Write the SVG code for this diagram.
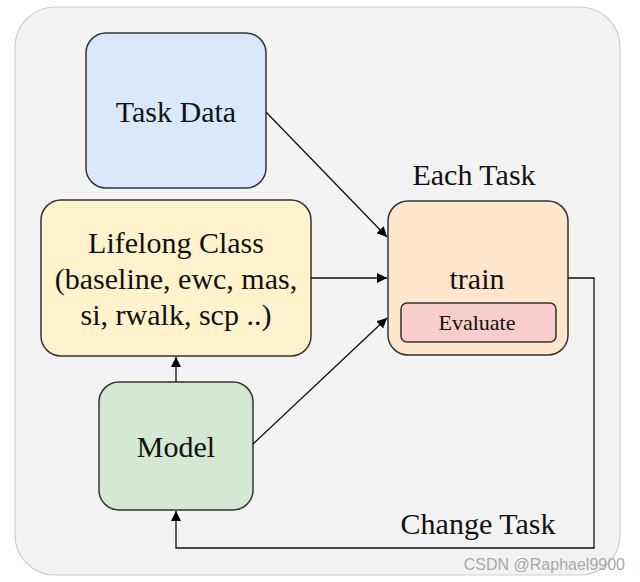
<svg xmlns="http://www.w3.org/2000/svg" width="640" height="582" viewBox="0 0 640 582">
<defs>
<marker id="arr" viewBox="0 0 10 10" refX="10" refY="5" markerWidth="10" markerHeight="10" markerUnits="userSpaceOnUse" orient="auto">
<path d="M0,0 L10,5 L0,10 z" fill="#000"/>
</marker>
<style>
.node{stroke:#333;stroke-width:1.5}
.t{font-family:"Liberation Serif","Times New Roman",serif;font-size:30px;fill:#111;text-anchor:middle}
.c{fill:none;stroke:#111;stroke-width:1.3}
</style>
</defs>
<rect width="640" height="582" fill="#fff"/>
<rect id="panel" x="15" y="7" width="605" height="568" rx="40" fill="#f3f3f3" stroke="#cfcfcf" stroke-width="1.2"/>
<g id="task-data">
<rect class="node" x="86" y="33" width="180" height="155" rx="20" fill="#dae8fc"/>
<text class="t" x="176" y="122">Task Data</text>
</g>
<g id="lifelong-class">
<rect class="node" x="41" y="200" width="270" height="156" rx="20" fill="#fff2cc"/>
<text class="t" x="176" y="253">Lifelong Class</text>
<text class="t" x="176" y="289">(baseline, ewc, mas,</text>
<text class="t" x="176" y="325">si, rwalk, scp ..)</text>
</g>
<g id="each-task">
<text class="t" x="474" y="185">Each Task</text>
<rect class="node" x="388" y="201" width="180" height="154" rx="20" fill="#ffe6cc"/>
<text class="t" x="477" y="289">train</text>
<g id="evaluate">
<rect class="node" x="401" y="303" width="155" height="39" rx="6" fill="#f8cecc"/>
<text class="t" x="477" y="330" style="font-size:22px">Evaluate</text>
</g>
</g>
<g id="model">
<rect class="node" x="99" y="382" width="154" height="128" rx="20" fill="#d5e8d4"/>
<text class="t" x="176" y="457">Model</text>
</g>
<g id="connectors">
<line class="c" x1="266" y1="112" x2="387" y2="237" marker-end="url(#arr)"/>
<line class="c" x1="311" y1="278" x2="387" y2="278" marker-end="url(#arr)"/>
<line class="c" x1="253" y1="444" x2="387" y2="318" marker-end="url(#arr)"/>
<line class="c" x1="176" y1="382" x2="176" y2="357" marker-end="url(#arr)"/>
<polyline class="c" points="568,278 594,278 594,548 176,548 176,511" marker-end="url(#arr)"/>
</g>
<text class="t" x="478" y="534">Change Task</text>
<text x="625" y="570" text-anchor="end" style="font-family:'Liberation Sans',Arial,sans-serif;font-size:16px;fill:#a8a8a8">CSDN @Raphael9900</text>
</svg>
